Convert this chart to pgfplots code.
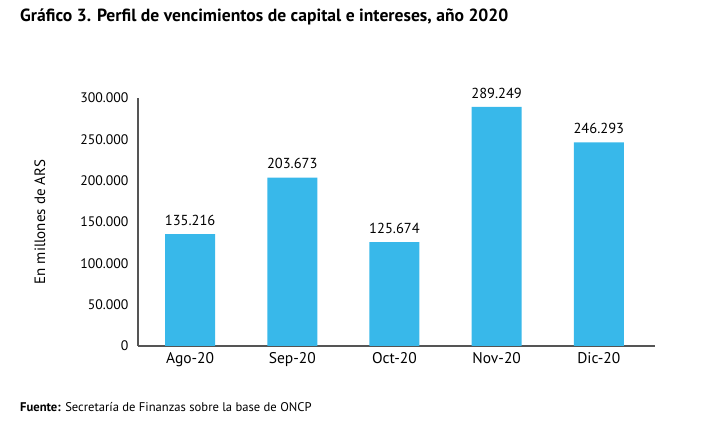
\documentclass[border=0pt]{standalone}
\usepackage{pgfplots}
\pgfplotsset{compat=1.18}
\usepackage{fontspec}
\setmainfont{PT Sans}
\definecolor{barblue}{HTML}{38B8EA}
\definecolor{axgray}{HTML}{555555}
\begin{document}
\begin{tikzpicture}[x=1pt,y=1pt]
\useasboundingbox (0,0) rectangle (720,446);
\node[anchor=base west,font=\fontsize{17.6}{20}\selectfont\bfseries,inner sep=0] at (20,424) {Gráfico 3. Perfil de vencimientos de capital e intereses, año 2020};
\node[anchor=base west,font=\fontsize{12.6}{14}\selectfont,inner sep=0] at (20,34) {\textbf{Fuente:} Secretaría de Finanzas sobre la base de ONCP};
\begin{axis}[
  at={(138pt,100pt)}, anchor=south west,
  scale only axis, width=517pt, height=248pt,
  xmin=-0.51, xmax=4.55, ymin=0, ymax=300000,
  axis lines=left, axis line style={-, axgray, line width=1.3pt},
  xtick=data, xticklabels={Ago-20,Sep-20,Oct-20,Nov-20,Dic-20},
  ytick={0,50000,100000,150000,200000,250000,300000},
  major tick length=0pt,
  scaled y ticks=false,
  /pgf/number format/.cd, fixed, 1000 sep={.}, assume math mode=true,
  /pgfplots/.cd,
  yticklabel style={font=\fontsize{13.8}{15}\selectfont, xshift=-6pt},
  xticklabel style={font=\fontsize{15.5}{17}\selectfont, yshift=-3pt},
  ylabel={En millones de ARS},
  every axis y label/.style={at={(-98pt,124pt)}, rotate=90, anchor=center, font=\fontsize{15}{17}\selectfont},
  ybar, bar width=50pt,
  nodes near coords,
  nodes near coords style={font=\fontsize{14.5}{16}\selectfont, yshift=5pt},
  clip=false,
]
\addplot[fill=barblue, draw=none] coordinates {(0,135216) (1,203673) (2,125674) (3,289249) (4,246293)};
\end{axis}
\end{tikzpicture}
\end{document}
